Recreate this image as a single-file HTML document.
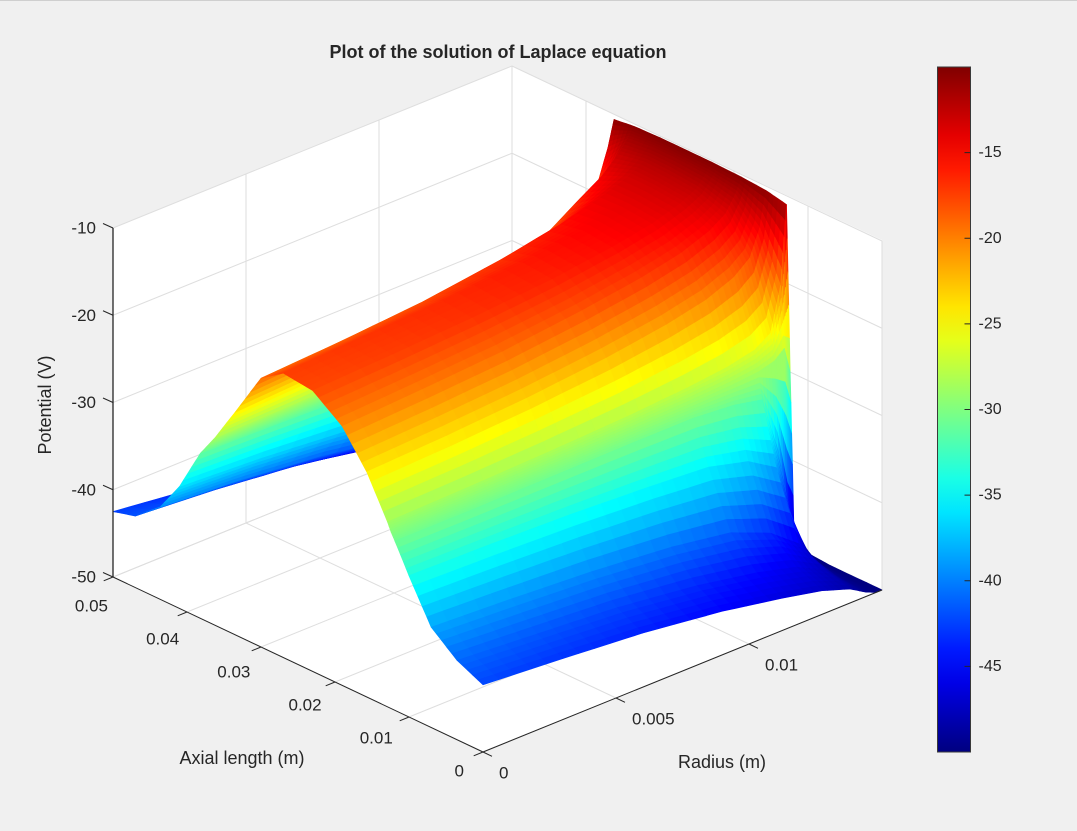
<!DOCTYPE html>
<html>
<head>
<meta charset="utf-8">
<style>
  html,body{margin:0;padding:0;background:#f0f0f0;}
  body{width:1077px;height:831px;overflow:hidden;position:relative;font-family:"Liberation Sans",Arial,sans-serif;}
  svg{position:absolute;left:0;top:0;}
  text{font-family:"Liberation Sans",Arial,sans-serif;fill:#262626;}
</style>
</head>
<body>
<svg id="chart" width="1077" height="831" viewBox="0 0 1077 831" xmlns="http://www.w3.org/2000/svg">
  <rect x="0" y="0" width="1077" height="831" fill="#f0f0f0"/>
  <line x1="0" y1="0.5" x2="1077" y2="0.5" stroke="#cfcfcf" stroke-width="1"/>
  <polygon points="113,228 512,66 882,240 882,590 483,752 113,577" fill="#ffffff"/>
  <g id="grid"></g>
  <g id="surface"></g>
  <g id="axes"></g>
  <text x="498" y="58" text-anchor="middle" font-size="18" font-weight="bold" fill="#000">Plot of the solution of Laplace equation</text>
  <text x="0" y="0" transform="translate(51,405) rotate(-90)" text-anchor="middle" font-size="18">Potential (V)</text>
  <text x="242" y="764" text-anchor="middle" font-size="18">Axial length (m)</text>
  <text x="722" y="768" text-anchor="middle" font-size="18">Radius (m)</text>
  <defs><linearGradient id="jetGrad" x1="0" y1="1" x2="0" y2="0"></linearGradient></defs>
  <g id="colorbar"></g>
</svg>
<script>
// ---- data ----
const xs = [0, 0.0035, 0.007, 0.01, 0.0119, 0.0124, 0.0129, 0.0157, 0.019, 0.023, 0.027, 0.030, 0.0335, 0.0362, 0.0372, 0.0382, 0.041, 0.0436, 0.047, 0.05];
const rs = [0, 0.003, 0.006, 0.009, 0.01125, 0.01275, 0.0138, 0.0144, 0.014775, 0.015];
const V_r0 = [-42.3,-40.9,-38.5,-33.8,-30.6,-29.8,-28.8,-24.2,-20.3,-17.8,-17.4,-19.2,-24.5,-28.5,-29.8,-31.1,-36,-39.4,-41.8,-42.5];
const V_r1 = [-43,-41.6,-39,-34,-30.6,-29.7,-28.6,-23.8,-19.8,-17.4,-17,-18.7,-24,-28.3,-29.8,-31.3,-36.5,-40,-42.5,-43.6];
const V_r2 = [-43.8,-42.3,-39.6,-34.3,-30.5,-29.5,-28.3,-23.2,-19.2,-16.9,-16.6,-18,-23.2,-28,-29.8,-31.6,-37.3,-41,-43.5,-45.2];
const V_r3 = [-45,-43.5,-40.5,-34.8,-30.4,-29.2,-27.9,-22.3,-18.2,-16.2,-15.9,-16.8,-21.5,-27.3,-29.7,-32,-38.5,-42.5,-45,-46.9];
const V_r4 = [-46.3,-44.8,-41.6,-35.3,-30.4,-29,-27.4,-21.3,-17.2,-15.3,-15,-15.5,-19.5,-26.5,-29.7,-32.6,-40,-44,-46.5,-48];
const V_r5 = [-47.3,-46,-43.5,-36.5,-30.8,-28.8,-26.9,-20.3,-16.2,-14.5,-14.2,-14.3,-16.5,-24.5,-29.6,-33.2,-41.5,-45.3,-47.5,-48.7];
const V_r6 = [-48.4,-47.6,-46,-38.5,-31.5,-28.5,-26.2,-19,-15,-13.5,-13.2,-13.2,-14.5,-21,-29.5,-34.5,-43.5,-46.8,-48.5,-49.3];
const V_r7 = [-49.5,-49.3,-48.8,-46,-38,-28,-25,-17.5,-13.8,-12.6,-12.3,-12.2,-12.8,-17,-29.3,-37,-45.5,-48,-49.1,-49.6];
const V_r8 = [-50,-49.9,-49.8,-49.5,-46,-27,-20,-14.5,-12,-11.3,-11.1,-11.1,-11.4,-13.5,-29,-42,-48,-49.3,-49.7,-49.9];
const V_r9 = [-50,-50,-50,-49.8,-47.5,-30,-11,-10.5,-10.3,-10.2,-10.2,-10.2,-10.3,-10.6,-30,-48,-49.8,-50,-50,-50];
const zTicks = [-10, -20, -30, -40, -50];
const xTicks = [0, 0.01, 0.02, 0.03, 0.04, 0.05];
const xTickLabels = ["0", "0.01", "0.02", "0.03", "0.04", "0.05"];
const rTicks = [0, 0.005, 0.01];
const rTickLabels = ["0", "0.005", "0.01"];
const cbTicks = [-15, -20, -25, -30, -35, -40, -45];

const rows = [V_r0, V_r1, V_r2, V_r3, V_r4, V_r5, V_r6, V_r7, V_r8, V_r9];
const XMAX = 0.05, RMAX = 0.015, ZMIN = -50, ZMAX = -10;
const NS = "http://www.w3.org/2000/svg";

function P(x, r, z) {
  const a = x / XMAX, b = r / RMAX, c = (z - ZMIN) / (ZMAX - ZMIN);
  return [483 - 370 * a + 399 * b, 752 - 175 * a - 162 * b - 349 * c];
}
function clamp(v){return Math.max(0, Math.min(1, v));}
function jet(v) {
  v = clamp(v);
  const r = clamp(1.5 - Math.abs(4 * v - 3));
  const g = clamp(1.5 - Math.abs(4 * v - 2));
  const b = clamp(1.5 - Math.abs(4 * v - 1));
  return "rgb(" + Math.round(r * 255) + "," + Math.round(g * 255) + "," + Math.round(b * 255) + ")";
}
function mk(tag, attrs, parent) {
  const e = document.createElementNS(NS, tag);
  for (const k in attrs) e.setAttribute(k, attrs[k]);
  parent.appendChild(e);
  return e;
}

// ---- grid ----
const grid = document.getElementById("grid");
function gline(p, q, name) {
  const l = mk("line", {x1: p[0], y1: p[1], x2: q[0], y2: q[1], stroke: "#dedede", "stroke-width": 1}, grid);
  
  
}
xTicks.forEach(x => {
  gline(P(x, 0, ZMIN), P(x, RMAX, ZMIN), "floor-gridline-x");
  gline(P(x, RMAX, ZMIN), P(x, RMAX, ZMAX), "back-wall-gridline-x");
});
rTicks.concat([RMAX]).forEach(r => {
  gline(P(0, r, ZMIN), P(XMAX, r, ZMIN), "floor-gridline-r");
  gline(P(XMAX, r, ZMIN), P(XMAX, r, ZMAX), "side-wall-gridline-r");
});
zTicks.forEach(z => {
  gline(P(XMAX, 0, z), P(XMAX, RMAX, z), "side-wall-gridline-z");
  gline(P(XMAX, RMAX, z), P(0, RMAX, z), "back-wall-gridline-z");
});

// ---- surface ----
const surf = document.getElementById("surface");
const SX = 5, SR = 5;
const quads = [];
function lerp(a, b, t){return a + (b - a) * t;}
for (let j = 0; j < rs.length - 1; j++) {
  for (let i = 0; i < xs.length - 1; i++) {
    const z00 = rows[j][i], z10 = rows[j][i + 1], z01 = rows[j + 1][i], z11 = rows[j + 1][i + 1];
    const pt = (u, w) => {
      const x = lerp(xs[i], xs[i + 1], u), r = lerp(rs[j], rs[j + 1], w);
      const z = lerp(lerp(z00, z10, u), lerp(z01, z11, u), w);
      return [x, r, z];
    };
    for (let a = 0; a < SX; a++) {
      for (let b = 0; b < SR; b++) {
        const c = [pt(a / SX, b / SR), pt((a + 1) / SX, b / SR), pt((a + 1) / SX, (b + 1) / SR), pt(a / SX, (b + 1) / SR)];
        const xc = (c[0][0] + c[2][0]) / 2, rc = (c[0][1] + c[2][1]) / 2;
        const zc = (c[0][2] + c[1][2] + c[2][2] + c[3][2]) / 4;
        quads.push({c: c, depth: xc / XMAX + rc / RMAX, z: zc});
      }
    }
  }
}
quads.sort((p, q) => q.depth - p.depth);
quads.forEach(q => {
  const pts = q.c.map(v => P(v[0], v[1], v[2]).map(n => n.toFixed(1)).join(",")).join(" ");
  const col = jet((q.z - ZMIN) / (ZMAX - ZMIN));
  const poly = mk("polygon", {points: pts, fill: col, stroke: col, "stroke-width": 0.7, "stroke-linejoin": "round"}, surf);
  
  
});

// ---- axes ----
const axes = document.getElementById("axes");
function aline(p, q, name, w) {
  const l = mk("line", {x1: p[0], y1: p[1], x2: q[0], y2: q[1], stroke: "#262626", "stroke-width": w || 1}, axes);
  
  
}
function atext(x, y, s, anchor, name) {
  const t = mk("text", {x: x, y: y, "text-anchor": anchor, "font-size": 17, "dominant-baseline": "central"}, axes);
  t.textContent = s;
  
  
}
aline(P(XMAX, 0, ZMIN), P(XMAX, 0, ZMAX), "z-axis-line", 1.3);
aline(P(XMAX, 0, ZMIN), P(0, 0, ZMIN), "x-axis-line");
aline(P(0, 0, ZMIN), P(0, RMAX, ZMIN), "r-axis-line");
zTicks.forEach(z => {
  const p = P(XMAX, 0, z);
  aline(p, [p[0] - 10, p[1] - 4.5], "z-tick");
  atext(p[0] - 17, p[1], String(z), "end", "z-tick-label");
});
xTicks.forEach((x, k) => {
  const p = P(x, 0, ZMIN);
  aline(p, [p[0] - 9.3, p[1] + 3.8], "x-tick");
  const f = x / XMAX;
  atext(464 - 356 * f, 771 - 165 * f, xTickLabels[k], "end", "x-tick-label");
});
rTicks.forEach((r, k) => {
  const p = P(0, r, ZMIN);
  aline(p, [p[0] + 9, p[1] + 4.3], "r-tick");
  atext(p[0] + 16, p[1] + 21, rTickLabels[k], "start", "r-tick-label");
});

// ---- colorbar ----
const grad = document.getElementById("jetGrad");
for (let k = 0; k <= 20; k++) {
  mk("stop", {offset: (k / 20), "stop-color": jet(k / 20)}, grad);
}
const cb = document.getElementById("colorbar");
const CBX = 937.5, CBW = 33, CBT = 67, CBB = 752;
function cbY(v){return CBB - (v - ZMIN) / (ZMAX - ZMIN) * (CBB - CBT);}
const bar = mk("rect", {x: CBX, y: CBT, width: CBW, height: CBB - CBT, fill: "url(#jetGrad)", stroke: "#3a3a3a", "stroke-width": 1}, cb);


cbTicks.forEach(v => {
  const y = cbY(v);
  const l = mk("line", {x1: CBX + CBW - 6, y1: y, x2: CBX + CBW, y2: y, stroke: "#262626", "stroke-width": 1}, cb);
  
  
  const t = mk("text", {x: CBX + CBW + 8, y: y, "font-size": 16, "dominant-baseline": "central"}, cb);
  t.textContent = String(v);
  
  
});
</script>
</body>
</html>
